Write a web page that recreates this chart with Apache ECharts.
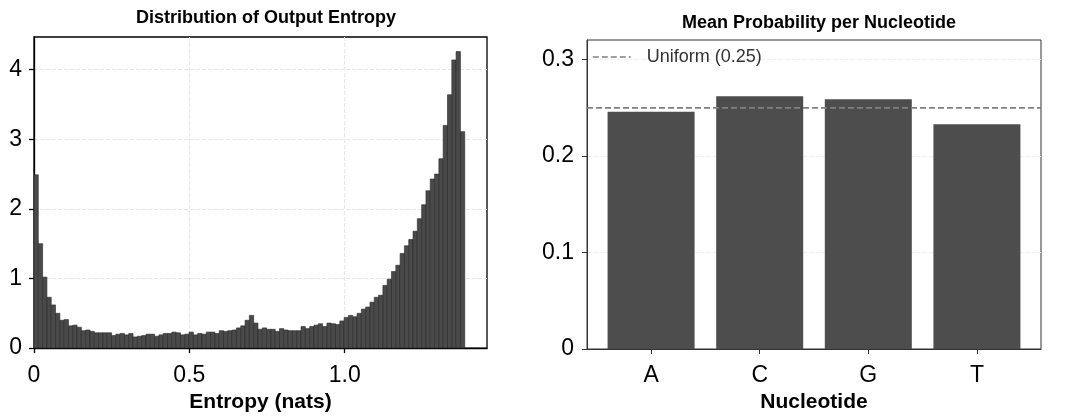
<!DOCTYPE html>
<html>
<head>
<meta charset="utf-8">
<script src="https://cdn.jsdelivr.net/npm/echarts@6/dist/echarts.min.js"></script>
<style>
  html, body { margin: 0; background: #fff; }
  #chart { width: 1066px; height: 418px; }
</style>
</head>
<body>
<div id="chart"></div>
<script>
// histogram of output entropy: 100 bins between 0 and ln(4)
const entropyMax = Math.log(4);
const entropyDensity = [
  2.49, 1.50, 1.02, 0.73, 0.62, 0.50, 0.40, 0.41, 0.32, 0.33,
  0.30, 0.25, 0.26, 0.24, 0.22, 0.22, 0.22, 0.22, 0.18, 0.20,
  0.21, 0.19, 0.21, 0.16, 0.17, 0.18, 0.20, 0.20, 0.17, 0.19,
  0.21, 0.21, 0.23, 0.22, 0.19, 0.20, 0.23, 0.19, 0.21, 0.20,
  0.23, 0.23, 0.21, 0.25, 0.24, 0.25, 0.26, 0.29, 0.32, 0.40,
  0.47, 0.36, 0.27, 0.29, 0.27, 0.27, 0.24, 0.28, 0.26, 0.25,
  0.25, 0.25, 0.31, 0.28, 0.31, 0.33, 0.35, 0.31, 0.36, 0.35,
  0.34, 0.39, 0.44, 0.47, 0.45, 0.50, 0.56, 0.59, 0.66, 0.73,
  0.76, 0.90, 0.99, 1.10, 1.19, 1.36, 1.47, 1.56, 1.68, 1.86,
  2.06, 2.26, 2.43, 2.50, 2.72, 3.20, 3.64, 4.14, 4.26, 3.11
];
const entropyTicks = [0, 0.5, 1.0];
const entropyTickLabels = ['0', '0.5', '1.0'];
const densityTicks = [0, 1, 2, 3, 4];

// mean probability per nucleotide
const nucleotides = ['A', 'C', 'G', 'T'];
const meanProb = [0.246, 0.262, 0.259, 0.233];
const uniformLevel = 0.25;
const uniformName = 'Uniform (0.25)';
const probTicks = [0, 0.1, 0.2, 0.3];
const probTickLabels = ['0', '0.1', '0.2', '0.3'];

const binWidth = entropyMax / entropyDensity.length;
const histData = entropyDensity.map((h, i) => [i * binWidth, (i + 1) * binWidth, h]);

const FONT = '"Liberation Sans", Arial, sans-serif';
const probXMin = -0.59, probXMax = 3.59;

const chart = echarts.init(document.getElementById('chart'));

const tickLabel = { fontSize: 23, color: '#000', fontFamily: FONT };
const axisName = { fontSize: 21, fontWeight: 'bold', color: '#000', fontFamily: FONT };
const titleText = { fontSize: 18, fontWeight: 'bold', color: '#000', fontFamily: FONT };
const uniformLine = { color: '#808080', width: 1.6, type: [6, 3] };

const option = {
  animation: false,
  textStyle: { fontFamily: FONT },
  title: [
    { text: 'Distribution of Output Entropy', left: 261, top: 4, textAlign: 'center', textStyle: titleText },
    { text: 'Mean Probability per Nucleotide', left: 814, top: 9, textAlign: 'center', textStyle: titleText }
  ],
  legend: {
    data: [uniformName],
    left: 587, top: 43,
    itemWidth: 38, itemHeight: 12,
    itemStyle: { opacity: 0 },
    lineStyle: uniformLine,
    textStyle: { fontSize: 18, color: '#333', fontFamily: FONT, padding: [0, 0, 0, 11] }
  },
  grid: [
    { left: 34, right: 579, top: 37, bottom: 69, show: true, borderColor: '#000', borderWidth: 1.3 },
    { left: 587, right: 25, top: 40, bottom: 64, show: true, borderColor: '#333', borderWidth: 1 }
  ],
  xAxis: [
    {
      gridIndex: 0, type: 'value', min: 0, max: 1.458, interval: 0.5,
      axisLine: { show: true, onZero: false, lineStyle: { color: '#000', width: 1.3 } },
      axisTick: { show: true, customValues: entropyTicks, length: 5, lineStyle: { color: '#000', width: 1.3 } },
      axisLabel: {
        ...tickLabel, margin: 16, customValues: entropyTicks,
        formatter: v => entropyTickLabels[entropyTicks.indexOf(v)]
      },
      splitLine: { show: true, lineStyle: { color: '#e6e6e6', type: 'dashed' } },
      name: 'Entropy (nats)', nameLocation: 'middle', nameGap: 42, nameTextStyle: axisName
    },
    {
      gridIndex: 1, type: 'value', min: probXMin, max: probXMax,
      axisLine: { show: true, onZero: false, lineStyle: { color: '#333' } },
      axisTick: { show: true, customValues: [0, 1, 2, 3], length: 5, lineStyle: { color: '#333' } },
      axisLabel: {
        ...tickLabel, margin: 15, customValues: [0, 1, 2, 3],
        formatter: v => nucleotides[v]
      },
      splitLine: { show: false },
      name: 'Nucleotide', nameLocation: 'middle', nameGap: 43, nameTextStyle: axisName
    }
  ],
  yAxis: [
    {
      gridIndex: 0, type: 'value', min: 0, max: 4.47, interval: 1,
      axisLine: { show: true, onZero: false, lineStyle: { color: '#000', width: 1.3 } },
      axisTick: { show: true, customValues: densityTicks, length: 5, lineStyle: { color: '#000', width: 1.3 } },
      axisLabel: { ...tickLabel, margin: 12, customValues: densityTicks },
      splitLine: { show: true, lineStyle: { color: '#e6e6e6', type: 'dashed' } }
    },
    {
      gridIndex: 1, type: 'value', min: 0, max: 0.3204, interval: 0.1,
      axisLine: { show: true, onZero: false, lineStyle: { color: '#333' } },
      axisTick: { show: true, customValues: probTicks, length: 5, lineStyle: { color: '#333' } },
      axisLabel: {
        ...tickLabel, margin: 13, customValues: probTicks,
        formatter: v => probTickLabels[probTicks.indexOf(v)]
      },
      splitLine: { show: true, lineStyle: { color: '#efefef', type: 'dashed' } }
    }
  ],
  series: [
    {
      type: 'custom',
      xAxisIndex: 0, yAxisIndex: 0,
      data: histData,
      encode: { x: [0, 1], y: 2 },
      renderItem: (params, api) => {
        const top = api.coord([api.value(0), api.value(2)]);
        const bottom = api.coord([api.value(1), 0]);
        return {
          type: 'rect',
          shape: { x: top[0], y: top[1], width: bottom[0] - top[0], height: bottom[1] - top[1] },
          style: { fill: '#4a4a4a', stroke: '#262626', lineWidth: 0.6 }
        };
      }
    },
    {
      type: 'bar',
      xAxisIndex: 1, yAxisIndex: 1,
      data: meanProb.map((p, i) => [i, p]),
      barWidth: 87,
      itemStyle: { color: '#4d4d4d' }
    },
    {
      name: uniformName,
      type: 'line',
      xAxisIndex: 1, yAxisIndex: 1,
      data: [[probXMin, uniformLevel], [probXMax, uniformLevel]],
      symbol: 'none',
      z: 5,
      itemStyle: { color: '#808080' },
      lineStyle: uniformLine
    }
  ]
};

chart.setOption(option);
</script>
</body>
</html>
